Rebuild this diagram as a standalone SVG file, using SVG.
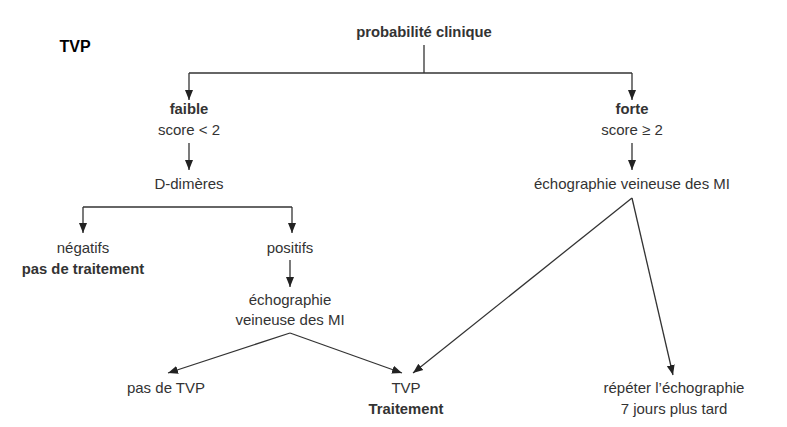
<svg xmlns="http://www.w3.org/2000/svg" width="787" height="427" viewBox="0 0 787 427">
<style>
text{font-family:"Liberation Sans",Arial,sans-serif;font-size:15px;fill:#333;text-anchor:middle}
.b{font-weight:bold;font-size:14.8px}
.c line,.c path{stroke:#333;stroke-width:1.3;fill:none}
</style>
<defs>
<marker id="ah" viewBox="0 0 10 10" refX="10" refY="5" markerWidth="10" markerHeight="10" markerUnits="userSpaceOnUse" orient="auto">
<path d="M0,1 L10,5 L0,9 z" fill="#222"/>
</marker>
</defs>
<rect width="787" height="427" fill="#fff"/>
<g id="title"><text x="75" y="52" class="b" style="font-size:16px;fill:#000">TVP</text></g>
<g class="c" id="connectors">
<line x1="424" y1="45" x2="424" y2="73"/>
<path d="M189,73 H632"/>
<line x1="189" y1="73" x2="189" y2="100" marker-end="url(#ah)"/>
<line x1="632" y1="73" x2="632" y2="100" marker-end="url(#ah)"/>
<line x1="189" y1="143" x2="189" y2="170" marker-end="url(#ah)"/>
<line x1="632" y1="143" x2="632" y2="170" marker-end="url(#ah)"/>
<path d="M83,207 H292"/>
<line x1="83" y1="207" x2="83" y2="233" marker-end="url(#ah)"/>
<line x1="292" y1="207" x2="292" y2="233" marker-end="url(#ah)"/>
<line x1="290" y1="260" x2="290" y2="287" marker-end="url(#ah)"/>
<line x1="290" y1="333" x2="168" y2="373" marker-end="url(#ah)"/>
<line x1="290" y1="333" x2="402" y2="373" marker-end="url(#ah)"/>
<line x1="632" y1="198" x2="413" y2="373" marker-end="url(#ah)"/>
<line x1="632" y1="198" x2="673" y2="375" marker-end="url(#ah)"/>
</g>
<g id="n-prob"><text x="424" y="37" class="b">probabilité clinique</text></g>
<g id="n-faible"><text x="189" y="114" class="b">faible</text><text x="189" y="135">score &lt; 2</text></g>
<g id="n-forte"><text x="632" y="114" class="b">forte</text><text x="632" y="135">score ≥ 2</text></g>
<g id="n-ddim"><text x="189" y="189">D-dimères</text></g>
<g id="n-echo1"><text x="632" y="189">échographie veineuse des MI</text></g>
<g id="n-neg"><text x="83" y="253">négatifs</text><text x="83" y="274" class="b">pas de traitement</text></g>
<g id="n-pos"><text x="290" y="253">positifs</text></g>
<g id="n-echo2"><text x="290" y="305">échographie</text><text x="290" y="325">veineuse des MI</text></g>
<g id="n-pastvp"><text x="166" y="393">pas de TVP</text></g>
<g id="n-tvp"><text x="406" y="393">TVP</text><text x="406" y="414" class="b">Traitement</text></g>
<g id="n-rep"><text x="674" y="393">répéter l’échographie</text><text x="674" y="414">7 jours plus tard</text></g>
</svg>
